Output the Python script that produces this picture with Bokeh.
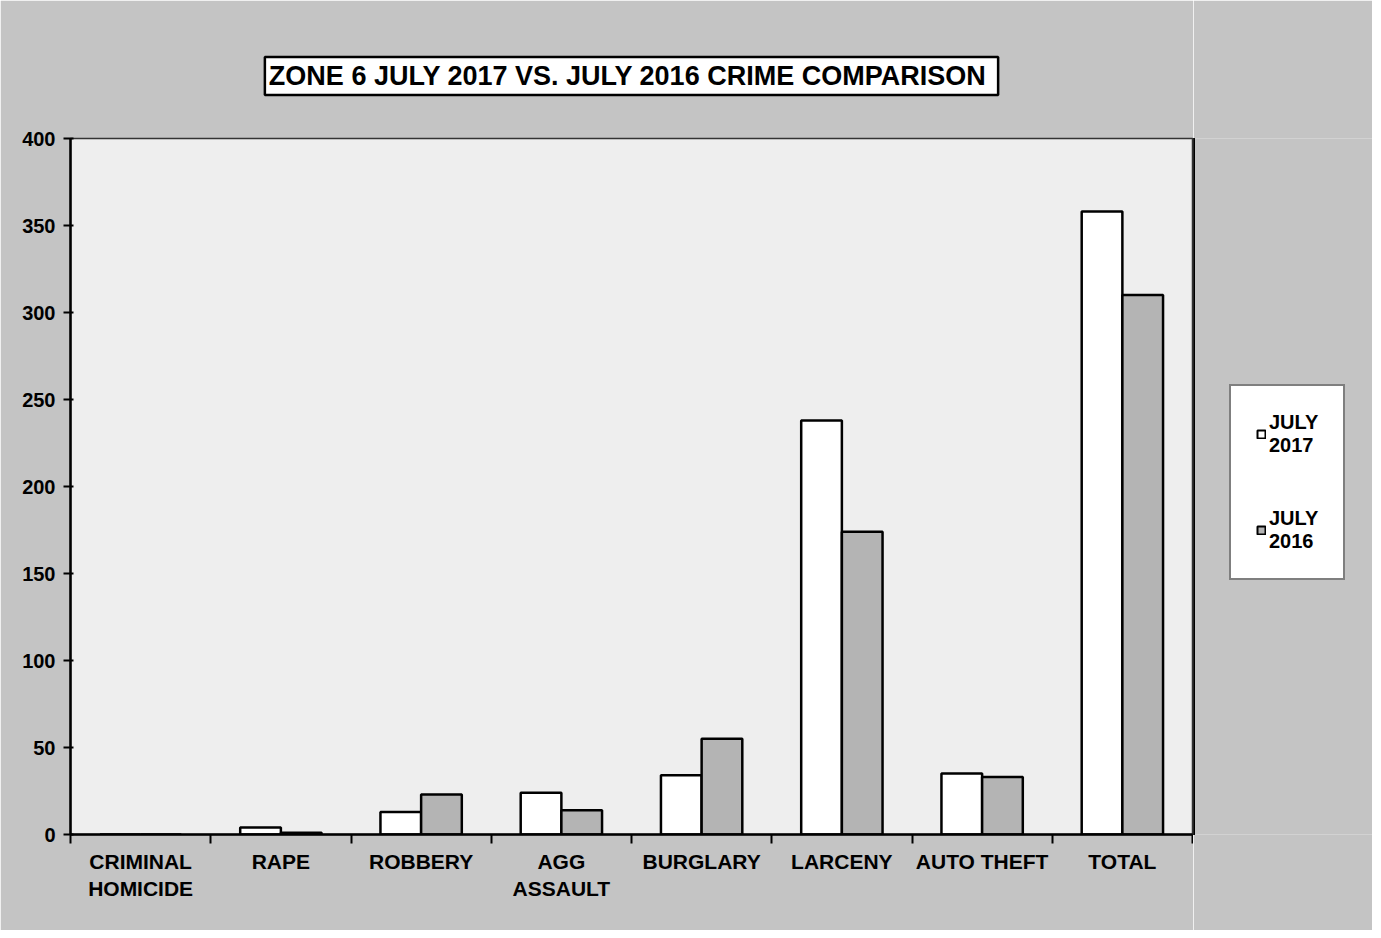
from bokeh.plotting import figure
from bokeh.layouts import row
from bokeh.models import (ColumnDataSource, Range1d, LinearAxis, FixedTicker, Title, Legend, LegendItem)
from bokeh.transform import dodge
from bokeh.embed import file_html
from bokeh.resources import INLINE

categories = ["CRIMINAL HOMICIDE", "RAPE", "ROBBERY", "AGG ASSAULT", "BURGLARY",
              "LARCENY", "AUTO THEFT", "TOTAL"]
cat_labels = ["CRIMINAL\nHOMICIDE", "RAPE", "ROBBERY", "AGG\nASSAULT", "BURGLARY",
              "LARCENY", "AUTO THEFT", "TOTAL"]
july_2017 = [0, 4, 13, 24, 34, 238, 35, 358]
july_2016 = [0, 1, 23, 14, 55, 174, 33, 310]
y_ticks = [0, 50, 100, 150, 200, 250, 300, 350, 400]
title_text = "ZONE 6  JULY 2017 VS. JULY 2016 CRIME COMPARISON"
series_names = ["JULY\n2017", "JULY\n2016"]

FONT = "Liberation Sans"
OUTER = "#c4c4c4"
INNER = "#eeeeee"
GRAY_BAR = "#b4b4b4"

n = len(categories)
centers = [i + 0.5 for i in range(n)]
src = ColumnDataSource(dict(cat=categories, x=centers, y17=july_2017, y16=july_2016))

p = figure(width=1193, height=930, output_backend="svg", toolbar_location=None,
           x_range=Range1d(0, n), y_range=Range1d(0, 400),
           x_axis_location=None, y_axis_location=None,
           min_border_left=70, min_border_top=138, min_border_right=1, min_border_bottom=96)
p.background_fill_color = INNER
p.border_fill_color = OUTER
p.outline_line_color = "#333333"
p.outline_line_width = 1.5
p.xgrid.visible = False
p.ygrid.visible = False

# y axis
ya = LinearAxis(ticker=FixedTicker(ticks=y_ticks))
ya.axis_line_color = "black"
ya.axis_line_width = 2.5
ya.major_tick_line_width = 2
ya.major_tick_out = 7
ya.major_tick_in = 3
ya.minor_tick_line_color = None
ya.major_label_text_font = FONT
ya.major_label_text_font_style = "bold"
ya.major_label_text_font_size = "20px"
ya.major_label_text_color = "black"
ya.major_label_standoff = 8
p.add_layout(ya, "left")

# x axis: ticks between categories
xt = LinearAxis(ticker=FixedTicker(ticks=list(range(n + 1))))
xt.axis_line_color = "black"
xt.axis_line_width = 2.5
xt.major_tick_line_width = 2
xt.major_tick_out = 9
xt.major_tick_in = 0
xt.minor_tick_line_color = None
xt.major_label_text_font_size = "0px"
xt.major_label_standoff = 0
p.add_layout(xt, "below")

# x axis: category labels at centers
xa = LinearAxis(ticker=FixedTicker(ticks=centers))
xa.axis_line_color = None
xa.major_tick_line_color = None
xa.minor_tick_line_color = None
xa.major_label_overrides = {c: lab for c, lab in zip(centers, cat_labels)}
xa.major_label_text_font = FONT
xa.major_label_text_font_style = "bold"
xa.major_label_text_font_size = "21px"
xa.major_label_text_color = "black"
xa.major_label_standoff = 0
p.add_layout(xa, "below")

p.vbar(x=dodge("x", -0.145), top="y17", width=0.29, source=src,
       fill_color="white", line_color="black", line_width=2.5)
p.vbar(x=dodge("x", 0.145), top="y16", width=0.29, source=src,
       fill_color=GRAY_BAR, line_color="black", line_width=2.5)

title = Title(text=title_text, align="center",
              text_font=FONT, text_font_style="bold", text_font_size="27px",
              text_color="black", background_fill_color="white",
              border_line_color="black", border_line_width=2.5, padding=4, standoff=87)
p.add_layout(title, "above")

# legend panel (separate figure so the legend is not clipped by the plot frame);
# its swatch renderers use the same data but lie outside this panel's ranges
lg = figure(width=179, height=930, output_backend="svg", toolbar_location=None,
            x_range=Range1d(100, 101), y_range=Range1d(0, 1),
            x_axis_location=None, y_axis_location=None,
            min_border_left=0, min_border_right=0, min_border_top=0, min_border_bottom=0)
lg.background_fill_color = OUTER
lg.border_fill_color = OUTER
lg.outline_line_color = None
lg.xgrid.visible = False
lg.ygrid.visible = False
s17 = lg.vbar(x="x", top="y17", width=0.29, source=src,
              fill_color="white", line_color="black", line_width=2)
s16 = lg.vbar(x="x", top="y16", width=0.29, source=src,
              fill_color=GRAY_BAR, line_color="black", line_width=2)

legend = Legend(items=[LegendItem(label=series_names[0], renderers=[s17], index=0),
                       LegendItem(label=series_names[1], renderers=[s16], index=0)],
                location=(36, 254))
legend.glyph_width = 10
legend.glyph_height = 10
legend.label_standoff = 3
legend.label_text_font = FONT
legend.label_text_font_style = "bold"
legend.label_text_font_size = "20px"
legend.label_text_color = "black"
legend.label_text_align = "center"
legend.padding = 25
legend.spacing = 50
legend.margin = 0
legend.border_line_color = "black"
legend.border_line_width = 2.5
legend.background_fill_color = "white"
legend.background_fill_alpha = 1
lg.add_layout(legend)

layout = row(p, lg, spacing=0)
open("out.html", "w").write(file_html(layout, INLINE))
